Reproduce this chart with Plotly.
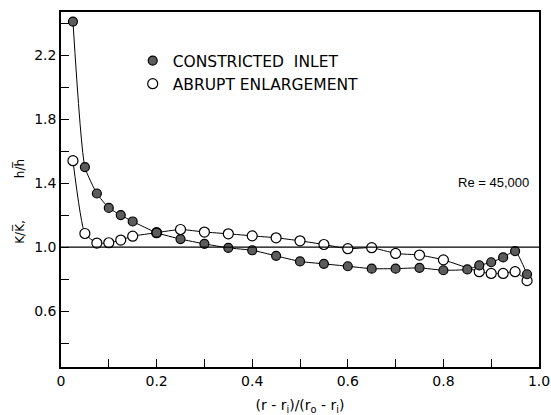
import plotly.graph_objects as go

# Constricted inlet (filled markers)
ci_x = [0.025, 0.05, 0.075, 0.1, 0.125, 0.15, 0.2, 0.25, 0.3, 0.35, 0.4, 0.45, 0.5,
        0.55, 0.6, 0.65, 0.7, 0.75, 0.8, 0.85, 0.875, 0.9, 0.925, 0.95, 0.975]
ci_y = [2.41, 1.50, 1.335, 1.245, 1.20, 1.16, 1.09, 1.05, 1.02, 0.995, 0.98, 0.945, 0.91,
        0.895, 0.88, 0.865, 0.865, 0.87, 0.855, 0.86, 0.885, 0.905, 0.935, 0.975, 0.83]

# Abrupt enlargement (open markers)
ae_x = [0.025, 0.05, 0.075, 0.1, 0.125, 0.15, 0.2, 0.25, 0.3, 0.35, 0.4, 0.45, 0.5,
        0.55, 0.6, 0.65, 0.7, 0.75, 0.8, 0.875, 0.9, 0.925, 0.95, 0.975]
ae_y = [1.54, 1.085, 1.025, 1.027, 1.044, 1.068, 1.09, 1.11, 1.094, 1.083, 1.07, 1.058, 1.039,
        1.016, 0.99, 0.996, 0.96, 0.95, 0.92, 0.846, 0.835, 0.835, 0.846, 0.79]

names = ["CONSTRICTED\u00a0\u00a0INLET", "ABRUPT ENLARGEMENT"]
x_ticks = [0, 0.2, 0.4, 0.6, 0.8, 1.0]
x_ticklabels = ["0", "0.2", "0.4", "0.6", "0.8", "1.0"]
y_ticks = [0.6, 1.0, 1.4, 1.8, 2.2]
y_ticklabels = ["0.6", "1.0", "1.4", "1.8", "2.2"]

FONT = "DejaVu Sans"
filled = dict(symbol="circle", size=9, color="#5c5c5c", line=dict(color="black", width=1.2))
hollow = dict(symbol="circle", size=10, color="white", line=dict(color="black", width=1.2))

fig = go.Figure()
fig.add_trace(go.Scatter(x=ae_x, y=ae_y, mode="lines+markers", marker=hollow,
                         line=dict(color="black", width=1, shape="spline", smoothing=0.5),
                         showlegend=False))
fig.add_trace(go.Scatter(x=ci_x, y=ci_y, mode="lines+markers", marker=filled,
                         line=dict(color="black", width=1, shape="spline", smoothing=0.5),
                         showlegend=False))
# legend entries (markers only)
fig.add_trace(go.Scatter(x=[None], y=[None], mode="markers", marker=filled, name=names[0],
                         legendgroup="a"))
fig.add_trace(go.Scatter(x=[None], y=[None], mode="markers", marker=hollow, name=names[1],
                         legendgroup="b"))

fig.add_hline(y=1.0, line=dict(color="black", width=1.2))

axis_common = dict(showline=True, linecolor="black", linewidth=1.5, mirror=True,
                   ticks="inside", ticklen=8, tickcolor="black", tickwidth=1.2,
                   showgrid=False, zeroline=False, automargin=False,
                   tickfont=dict(family=FONT, size=14, color="black"))

fig.update_xaxes(range=[0, 1.0], tickvals=x_ticks, ticktext=x_ticklabels,
                 minor=dict(dtick=0.1, tick0=0, ticks="inside", ticklen=8, tickcolor="black",
                            tickwidth=1.2, showgrid=False),
                 title=dict(text="(r - r<sub>i</sub>)/(r<sub>o</sub> - r<sub>i</sub>)",
                            font=dict(family=FONT, size=14, color="black"), standoff=13),
                 **axis_common)
fig.update_yaxes(range=[0.25, 2.47], tickvals=y_ticks, ticktext=y_ticklabels,
                 minor=dict(dtick=0.2, tick0=0.2, ticks="inside", ticklen=8, tickcolor="black",
                            tickwidth=1.2, showgrid=False),
                 **axis_common)

fig.add_annotation(xref="paper", yref="paper", x=-0.086, y=0.468, xanchor="center",
                   yanchor="middle", textangle=-90, showarrow=False,
                   text="K/K\u0305,\u00a0\u00a0\u00a0\u00a0\u00a0\u00a0\u00a0\u00a0\u00a0\u00a0\u00a0h/h\u0305",
                   font=dict(family=FONT, size=12, color="black"))
fig.add_annotation(x=0.905, y=1.405, xanchor="center", yanchor="middle", showarrow=False,
                   text="Re = 45,000", font=dict(family="Liberation Sans", size=13, color="black"))

fig.update_layout(
    width=551, height=415,
    margin=dict(l=61, r=12, t=12, b=48),
    paper_bgcolor="white", plot_bgcolor="white",
    legend=dict(x=0.15, y=0.91, xanchor="left", yanchor="top",
                font=dict(family=FONT, size=15.5, color="black"),
                bgcolor="rgba(0,0,0,0)", tracegroupgap=3, traceorder="normal"),
)

fig.write_html("out.html")
